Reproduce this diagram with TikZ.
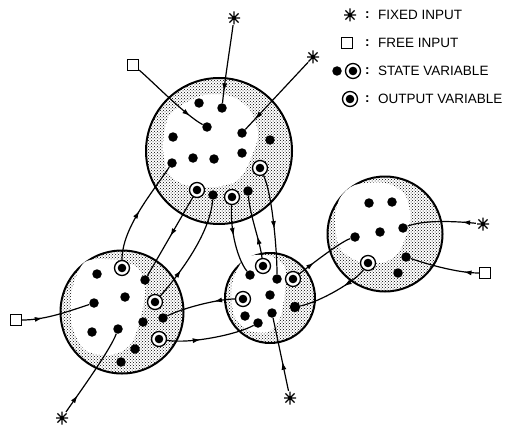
\documentclass[tikz,border=0pt]{standalone}
\usepackage{fontspec}
\setmainfont{Liberation Sans}
\usetikzlibrary{patterns,decorations.markings,arrows.meta}
\tikzset{
  dotn/.style={circle,fill=black,inner sep=0pt,minimum size=9.5pt},
  outv/.style={circle,draw,line width=1.3pt,inner sep=0pt,minimum size=15pt,fill=white,
    path picture={\fill[black] (path picture bounding box.center) circle (4.3pt);}},
  astk/.style={circle,inner sep=0pt,minimum size=14pt,
    path picture={\draw[line width=1.3pt] (path picture bounding box.center) +(90:6.5pt) -- +(270:6.5pt)
      (path picture bounding box.center) +(0:6pt) -- +(180:6pt)
      (path picture bounding box.center) +(45:6.5pt) -- +(225:6.5pt)
      (path picture bounding box.center) +(135:6.5pt) -- +(315:6.5pt);
      \fill (path picture bounding box.center) circle (2pt);}},
  sqr/.style={rectangle,draw,line width=1.3pt,inner sep=0pt,minimum size=11pt,fill=white},
  bigc/.style={circle,draw,line width=2pt,pattern=crosshatch dots,pattern color=black,inner sep=0pt},
  conn/.style={line width=1.2pt},
  arr/.style={postaction={decorate},decoration={markings,mark=at position #1 with {\arrow{Latex[length=8pt,width=5pt]}}}},
  lab/.style={anchor=west,font=\fontsize{13.5}{16}\selectfont,inner sep=0pt},
}
\begin{document}
\begin{tikzpicture}[x=1pt,y=-1pt]
\useasboundingbox (0,0) rectangle (510,433);
% big circles
\node[bigc,minimum size=146pt] (T) at (219,151) {};
\node[bigc,minimum size=123pt] (L) at (122,312) {};
\node[bigc,minimum size=90pt] (M) at (270,298) {};
\node[bigc,minimum size=115pt] (R) at (385,234) {};
% white interiors
\fill[white] plot[smooth cycle] coordinates {(200,96) (230,96) (250,110) (258,135) (250,160) (238,180) (215,187) (185,185) (168,172) (163,145) (170,115)};
\fill[white] plot[smooth cycle] coordinates {(85,262) (115,260) (138,268) (145,290) (140,320) (130,345) (110,355) (85,350) (72,325) (72,290)};
\fill[white] plot[smooth cycle] coordinates {(245,258) (270,256) (285,268) (285,290) (280,318) (268,332) (248,330) (234,315) (232,285)};
\fill[white] plot[smooth cycle] coordinates {(355,185) (385,183) (405,195) (410,220) (400,250) (385,262) (360,262) (340,248) (335,220) (340,198)};
% top circle
\node[dotn] (ta) at (199,103) {};
\node[dotn] (tb) at (222,108) {};
\node[dotn] (tc) at (207,127) {};
\node[dotn] (td) at (173,137) {};
\node[dotn] (te) at (242,133) {};
\node[dotn] (tf) at (270,140) {};
\node[dotn] (tg) at (242,153) {};
\node[dotn] (th) at (193,158) {};
\node[dotn] (ti) at (214,159) {};
\node[dotn] (tj) at (172,163) {};
\node[outv] (tO1) at (260,168) {};
\node[outv] (tO2) at (197,190) {};
\node[dotn] (tk) at (213,195) {};
\node[outv] (tO3) at (232,197) {};
\node[dotn] (tl) at (248,191) {};
% left circle
\node[outv] (lO1) at (122,268) {};
\node[dotn] (la) at (97,274) {};
\node[dotn] (lb) at (145,280) {};
\node[dotn] (lc) at (125,297) {};
\node[dotn] (ld) at (94,303) {};
\node[outv] (lS) at (155,302) {};
\node[dotn] (le) at (163,318) {};
\node[dotn] (lf) at (143,322) {};
\node[dotn] (lg) at (118,329) {};
\node[dotn] (lh) at (92,332) {};
\node[outv] (lO2) at (159,339) {};
\node[dotn] (li) at (135,349) {};
\node[dotn] (lj) at (121,362) {};
% middle circle
\node[outv] (mO1) at (263,266) {};
\node[dotn] (ma) at (250,275) {};
\node[dotn] (mb) at (277,279) {};
\node[outv] (mS) at (293,279) {};
\node[outv] (mO2) at (243,299) {};
\node[dotn] (mc) at (270,295) {};
\node[dotn,minimum size=10.5pt] (md) at (295,307) {};
\node[dotn] (me) at (245,316) {};
\node[dotn] (mf) at (258,323) {};
\node[dotn] (mg) at (272,313) {};
% right circle
\node[dotn] (ra) at (369,203) {};
\node[dotn] (rb) at (392,202) {};
\node[dotn] (rc) at (355,237) {};
\node[dotn] (rd) at (380,232) {};
\node[dotn] (re) at (403,228) {};
\node[outv] (rO) at (368,263) {};
\node[dotn] (rf) at (406,257) {};
\node[dotn] (rg) at (398,273) {};
% inputs
\node[astk] (A1) at (234,18) {};
\node[sqr] (S1) at (133,65) {};
\node[astk] (A2) at (313,57) {};
\node[sqr] (S2) at (16,320) {};
\node[astk] (A3) at (62,418) {};
\node[astk] (A4) at (290,398) {};
\node[astk] (A5) at (483,224) {};
\node[sqr] (S3) at (485,273) {};
% connectors
\draw[conn,arr=0.85] (A1) .. controls +(-4,30) and +(3,-30) .. (tb);
\draw[conn,arr=0.82] (S1) .. controls +(18,15) and +(-22,-12) .. (tc);
\draw[conn,arr=0.85] (A2) -- (te);
\draw[conn,arr=0.5] (lO1) .. controls +(0,-40) and +(-20,30) .. (tj);
\draw[conn,arr=0.5] (tO2) -- (lb);
\draw[conn,arr=0.3] (lS) .. controls +(22,-25) and +(-3,40) .. (tk);
\draw[conn,arr=0.45] (tO3) .. controls +(-2,35) and +(-12,-15) .. (ma);
\draw[conn,arr=0.35] (mO1) .. controls +(-3,-25) and +(2,25) .. (tl);
\draw[conn,arr=0.55] (tO1) .. controls +(12,25) and +(0,-30) .. (mb);
\draw[conn,arr=0.3] (S2) .. controls +(30,0) and +(-25,8) .. (ld);
\draw[conn,arr=0.22] (A3) .. controls +(12,-18) and +(-8,22) .. (lg);
\draw[conn,arr=0.3] (mO2) .. controls +(-25,0) and +(20,-10) .. (le);
\draw[conn,arr=0.38] (lO2) .. controls +(30,5) and +(-22,12) .. (mf);
\draw[conn,arr=0.4] (A4) -- (mg);
\draw[conn,arr=0.3] (mS) .. controls +(15,-12) and +(-15,5) .. (rc);
\draw[conn,arr=0.35] (rO) .. controls +(-12,18) and +(25,-5) .. (md);
\draw[conn,arr=0.2] (A5) .. controls +(-30,-3) and +(20,-8) .. (re);
\draw[conn,arr=0.22] (S3) .. controls +(-30,0) and +(15,5) .. (rf);
% legend
\node[astk] (gA) at (350,15) {};
\node[lab] (gAc) at (365,15) {\textbf{:}};
\node[lab] (gAt) at (378,15) {FIXED INPUT};
\node[sqr] (gS) at (347,43) {};
\node[lab] (gSc) at (365,43) {\textbf{:}};
\node[lab] (gSt) at (378,43) {FREE INPUT};
\node[dotn] (gD) at (337,71) {};
\node[outv] (gV) at (353,71) {};
\node[lab] (gVc) at (365,71) {\textbf{:}};
\node[lab] (gVt) at (378,71) {STATE VARIABLE};
\node[outv] (gO) at (350,99) {};
\node[lab] (gOc) at (365,99) {\textbf{:}};
\node[lab] (gOt) at (378,99) {OUTPUT VARIABLE};
\end{tikzpicture}
\end{document}
